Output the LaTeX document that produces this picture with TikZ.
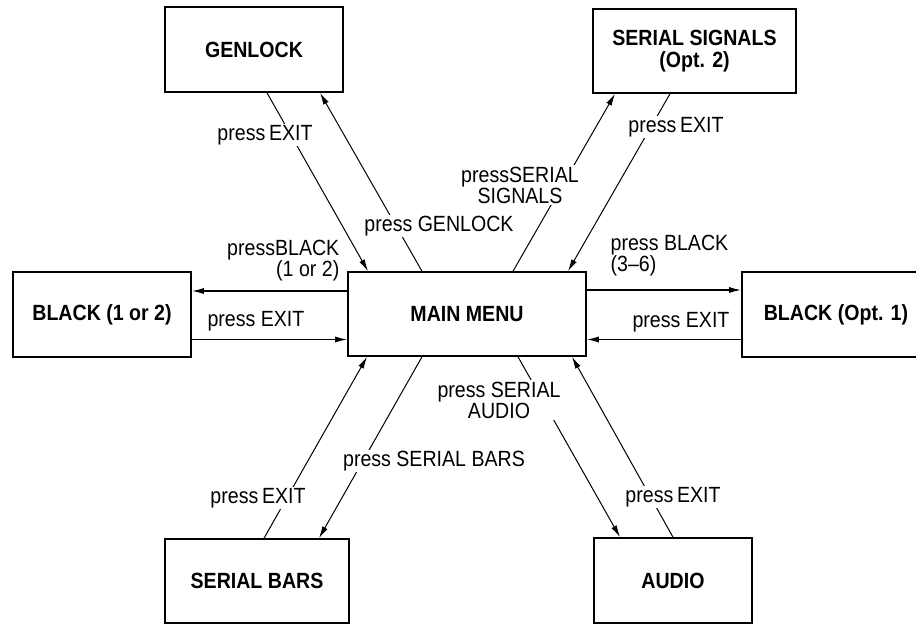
\documentclass[tikz,border=0pt]{standalone}
\usepackage{fontspec}
\setmainfont[FakeStretch=0.89]{Liberation Sans}
\usepackage{tikz}
\usetikzlibrary{arrows.meta}

\begin{document}
\begin{tikzpicture}[x=1pt,y=-1pt,
  box/.style={draw, line width=1.6pt, font=\fontsize{22}{22}\selectfont\bfseries, align=center, inner sep=0pt},
  lbl/.style={fill=white, inner sep=1.5pt, font=\fontsize{22}{21}\selectfont, align=center},
  arr/.style={line width=1pt, -{Latex[length=12pt,width=6pt]}}]
            \useasboundingbox (0,0) rectangle (916,624);
            % boxes
            \node[box, minimum width=178pt, minimum height=85pt] (genlock) at (254,49.5) {GENLOCK};
            \node[box, minimum width=203pt, minimum height=84pt] (sersig) at (694.5,51) {SERIAL SIGNALS\\(Opt. 2)};
            \node[box, minimum width=238pt, minimum height=84pt] (main) at (467,314) {MAIN MENU};
            \node[box, minimum width=178pt, minimum height=85pt] (blackl) at (102,314.5) {BLACK (1 or 2)};
            \node[box, minimum width=188pt, minimum height=85pt] (blackr) at (836,314.5) {BLACK (Opt. 1)};
            \node[box, minimum width=184pt, minimum height=84pt] (serbars) at (257,581) {SERIAL BARS};
            \node[box, minimum width=158pt, minimum height=85pt] (audio) at (673,580.5) {AUDIO};
            % top
            \draw[arr] ([xshift=13pt]genlock.south) -- ([xshift=-99pt]main.north);
            \draw[arr] ([xshift=-45pt]main.north) -- ([xshift=66pt]genlock.south);
            \draw[arr] ([xshift=46pt]main.north) -- ([xshift=-79.5pt]sersig.south);
            \draw[arr] ([xshift=-24.5pt]sersig.south) -- ([xshift=101pt]main.north);
            % sides
            \draw[arr, line width=1.3pt] ([yshift=23pt]main.west) -- ([yshift=23pt]main.west -| blackl.east);
            \draw[arr, line width=1.3pt] ([yshift=-25pt]blackl.east) -- ([yshift=-25pt]blackl.east -| main.west);
            \draw[arr, line width=1.3pt] ([yshift=24pt]main.east) -- ([yshift=24pt]main.east -| blackr.west);
            \draw[arr, line width=1.3pt] ([yshift=-25pt]blackr.west) -- ([yshift=-25pt]blackr.west -| main.east);
            % bottom
            \draw[arr] ([xshift=7pt]serbars.north) -- ([xshift=-100pt]main.south);
            \draw[arr] ([xshift=-45pt]main.south) -- ([xshift=62pt]serbars.north);
            \draw[arr] ([xshift=51pt]main.south) -- ([xshift=-53pt]audio.north);
            \draw[arr] (audio.north) -- ([xshift=105pt]main.south);
            % labels
            \node[lbl] (exitgen) at (265,135) {press\,EXIT};
            \node[lbl] (pgen) at (439,226) {press GENLOCK};
            \node[lbl] (psig) at (520,185) {pressSERIAL\\SIGNALS};
            \node[lbl] (exitsig) at (676,127) {press\,EXIT};
            \node[lbl, anchor=north west, align=left] (pbr) at (609,233) {press BLACK\\(3--6)};
            \node[lbl] (exitbr) at (681,322) {press EXIT};
            \node[lbl, anchor=north east, align=right] (pbl) at (341,238) {pressBLACK\\(1 or 2)};
            \node[lbl] (exitbl) at (256,321) {press EXIT};
            \node[lbl] (exitbars) at (258,498) {press\,EXIT};
            \node[lbl] (pbars) at (434,461) {press SERIAL BARS};
            \node[lbl] (paud) at (499,400) {press SERIAL\\AUDIO};
            \node[lbl] (exitaud) at (673,497) {press\,EXIT};
        \end{tikzpicture}
\end{document}
